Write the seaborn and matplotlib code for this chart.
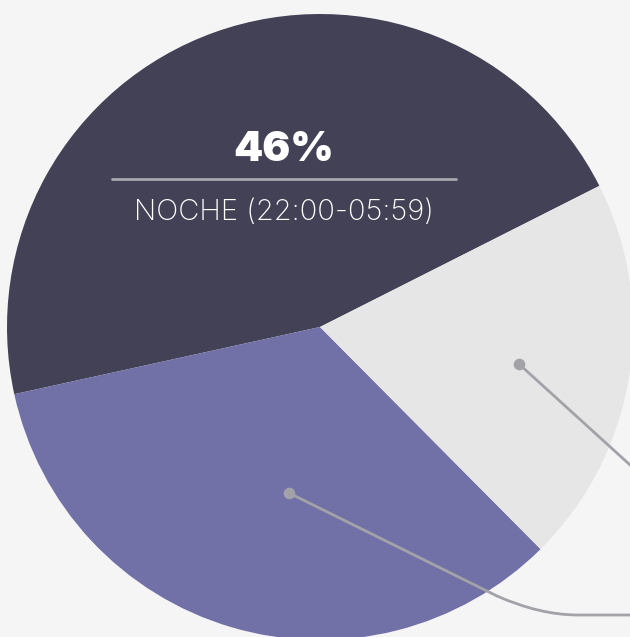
import matplotlib
matplotlib.use("Agg")
import matplotlib.pyplot as plt
import seaborn as sns
from matplotlib.path import Path
from matplotlib.patches import PathPatch

# Data
labels = ["NOCHE (22:00-05:59)", "TARDE", "MAÑANA"]
shares = [46, 34, 20]
colors = ["#434155", "#7170a7", "#e6e6e6"]

sns.set_theme(style="white")
plt.rcParams["font.family"] = ["Inter", "DejaVu Sans"]

W, H = 630, 637
fig = plt.figure(figsize=(W / 100, H / 100), dpi=100, facecolor="#f5f5f5")
ax = fig.add_axes([0, 0, 1, 1])
ax.set_facecolor("#f5f5f5")

# pie, partly running off the canvas
cx, cy, r = 320, H - 327, 313
ax.pie(shares, colors=colors, startangle=26.8, counterclock=True,
       center=(cx, cy), radius=r, frame=True,
       wedgeprops=dict(linewidth=0))
ax.set_xlim(0, W)
ax.set_ylim(0, H)
ax.set_aspect("equal")
ax.axis("off")

# main label on dark slice
ax.text(284, H - 150, f"{shares[0]}%", ha="center", va="center",
        fontsize=30, fontweight="black", color="white")
ax.plot([112, 456], [H - 179, H - 179], color="#a9a8b0", lw=2)
ax.text(284, H - 213, labels[0], ha="center", va="center",
        fontsize=21, fontweight="light", color="white")

# leader lines to labels outside the canvas
lc = "#a3a2a9"
ax.plot([519, 640], [H - 364, H - 474], color=lc, lw=2, solid_capstyle="butt")
ax.scatter([519, 289], [H - 364, H - 493], s=70, color=lc, zorder=5, linewidths=0)
verts = [(289, H - 493), (497, H - 596), (540, H - 615), (578, H - 615), (640, H - 615)]
codes = [Path.MOVETO, Path.LINETO, Path.CURVE3, Path.CURVE3, Path.LINETO]
ax.add_patch(PathPatch(Path(verts, codes), fill=False, edgecolor=lc, lw=2))

fig.savefig("out.png", dpi=100, facecolor=fig.get_facecolor())
